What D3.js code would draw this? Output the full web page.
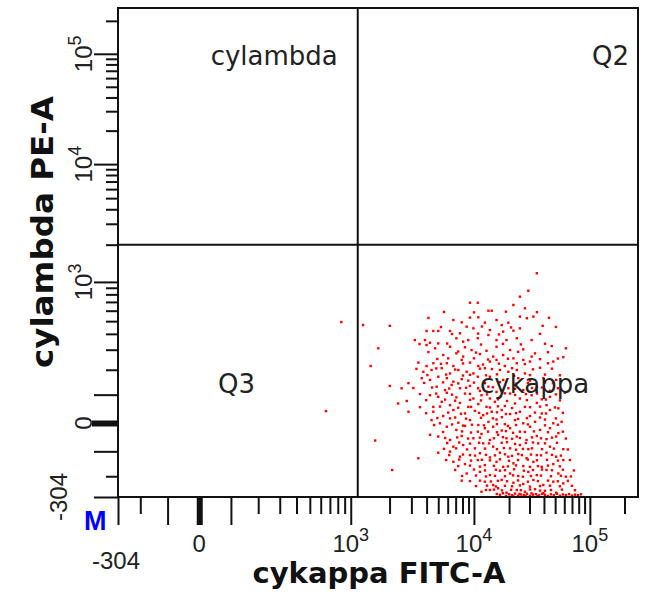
<!DOCTYPE html>
<html>
<head>
<meta charset="utf-8">
<script src="https://cdn.jsdelivr.net/npm/d3@7/dist/d3.min.js"></script>
<style>
  body { margin: 0; background: #fff; }
  svg { display: block; }
</style>
</head>
<body>
<div id="plot"></div>
<script>
// event values (FITC-A, PE-A)
const kappaFITC = [34700,29300,24800,9260,10800,21800,27400,13300,14200,32400,
  24800,10900,6700,7880,15600,19700,1240,2010,39000,12400,
  8680,17300,4000,4550,5000,6280,9900,13700,17800,21800,
  24800,7620,13300,3200,3880,4270,5000,7100,8100,8950,
  10800,15600,19000,23300,31300,46700,62000,1630,4000,4700,
  6280,8400,9560,12800,15600,20400,26500,33500,5500,6060,
  7100,8100,11260,14600,17800,21800,26500,31300,48200,58800,
  3420,4000,4550,5900,6700,7880,9260,10900,13700,15600,
  18400,23300,30300,37000,1420,3760,4400,5350,6280,7370,
  8680,9900,12400,16700,19700,23300,27400,3650,4270,5000,
  5900,6700,7880,8950,10800,13700,17800,24000,30300,39500,
  51000,2010,2500,2840,4850,5700,6480,7620,9260,11260,
  13300,15600,19700,26500,34700,45100,60800,4270,5000,5900,
  7100,8400,9900,11600,13700,16700,20400,24800,31300,38300,
  45100,2340,2750,4550,5350,6280,7620,8950,10900,12800,
  15100,18400,22500,27400,34700,42100,53300,2840,4550,5500,
  6700,8400,10200,12000,14200,17300,20400,24800,30300,38300,
  45100,4400,5170,6280,7370,9260,10900,13300,15600,18400,
  22500,26500,33500,40800,48200,56900,5900,7100,8400,10800,
  12400,14600,17300,20400,24800,30300,37000,45100,53300,1540,
  4270,5000,6280,7880,9900,11600,13700,16100,19000,23300,
  28300,34700,42100,51000,6700,8100,10200,12000,14600,17300,
  20400,24800,29300,35700,45100,58800,5000,6280,7620,9260,
  11260,13700,16700,19700,24000,28300,34700,42100,51000,3420,
  6700,8400,10800,12400,15600,17800,21800,26500,32400,38300,
  48200,58800,2100,8680,11260,13700,16700,20400,24000,29300,
  34700,42100,53300,62000,7880,12400,14600,17300,21800,26500,
  32400,39500,48200,58800,11600,13700,16100,19000,23300,27400,
  33500,40800,51000,
  850,655,
  15700,16700,17700,18800,20000,21200,22500,23900,25300,26800,
  28500,30300,32200,34200,36300,38500,40800,43300,46000,48800,
  51900,55000,58400,62000,66000,70000,74200,78800,83700,21800,
  24600,27700,31200,35200,39600,
  5590,10020,18800,34800,
  4140,9260,28480,44220,
  5270,11710,20810,50790,
  6530,10850,16370,37000,
  3500,5940,11490,17720,25300,40850,
  4140,7360,10430,23910,43350,
  4910,10020,13200,19570,37000,52840,
  5270,8080,11950,16370,27380,43350,
  3300,4810,6930,11260,14250,21220,32150,46920,
  4060,5820,8080,9260,12680,15740,22080,30300,40850,55000,
  3820,5490,7360,10020,12430,16700,22970,29060,40850,47860,
  3110,4440,6180,8580,10850,14540,22520,31520,38500,52840,
  3530,4810,6530,9260,12940,18440,22520,27930,34800,50790,
  3970,5710,6930,9260,11490,16050,19190,28480,41660,55000,
  3530,5170,7360,9450,13700,16050,21220,30300,37000,49790,
  3970,6060,7770,11070,12940,15740,18800,22970,33450,41660,58370,
  4910,6930,8580,11490,14540,17370,23910,28480,37000,50790,
  4620,6530,8080,9630,12180,15740,19570,22970,29060,40850,52840,
  5490,7930,9450,13200,15740,18800,21650,27380,32800,43350,58370,
  5710,7220,8930,11260,14830,17720,21220,24800,31520,37740,46920,61930,
  5940,7500,9260,11070,13460,19190,22520,27930,32150,40850,51800,
  5590,7070,8750,12430,15740,18070,22970,26310,31520,38500,48820,64430,
  6180,8080,10220,12680,15120,18440,21220,25800,30910,37740,46920,56100,
  5820,7500,9450,11710,13700,16700,19960,23910,29060,34800,42500,52840,67200,
  7360,9260,11260,14830,19570,22970,30300,35500,43350,55000,
  6930,10020,12430,15430,18440,22080,26840,32150,38500,46920,58370,72740,
  7930,10430,12680,15120,18440,21650,26310,30910,37740,46000,56100,68540,
  9260,11260,13970,16050,19190,23910,29060,35500,43350,52840,64430,
  10430,12940,15430,18440,21220,24800,30300,37000,45100,55000,69910,
  12680,14830,17370,20810,25300,30300,37000,46000,57220,74200];

const lambdaPE = [1170,853,768,690,690,663,626,600,600,541,
  541,535,510,490,510,487,467,461,461,487,
  454,467,421,421,421,421,441,428,416,423,
  441,404,392,358,358,341,337,370,348,358,
  370,358,358,370,358,321,308,308,327,308,
  317,314,298,294,317,298,302,280,271,254,
  280,263,276,263,271,254,246,263,238,260,
  233,217,230,230,217,246,233,217,238,246,
  217,230,238,209,217,191,199,207,184,199,
  191,184,207,199,191,199,184,164,157,170,
  164,150,160,154,170,170,157,164,154,164,
  157,133,124,144,130,117,137,124,133,114,
  130,110,124,117,130,114,107,98,92,107,
  90,104,86,98,86,92,104,86,98,83,
  92,68,77,56,74,62,70,56,66,56,
  74,59,68,56,70,62,51,39,39,24,
  45,33,42,27,39,45,31,39,24,33,
  45,10,-1,16,1,10,-7,4,12,-4,
  10,-1,4,12,-1,4,-13,-24,-10,-30,
  -18,-13,-26,-18,-30,-13,-24,-18,-35,-61,
  -41,-47,-59,-45,-53,-38,-59,-41,-53,-47,
  -59,-45,-56,-47,-83,-77,-89,-71,-83,-69,
  -89,-77,-92,-71,-83,-92,-105,-101,-120,-114,
  -107,-123,-105,-120,-110,-126,-114,-105,-120,-126,
  -140,-149,-133,-153,-140,-160,-146,-157,-140,-160,
  -149,-133,-173,-188,-181,-195,-176,-188,-199,-181,
  -195,-173,-188,-202,-220,-225,-241,-217,-230,-236,
  -217,-241,-225,-233,-275,-266,-257,-280,-266,-275,
  -262,-270,-280,
  492,41,
  -287,-292,-283,-298,-289,-294,-285,-297,-290,-293,
  -286,-298,-291,-288,-295,-286,-292,-298,-289,-294,
  -286,-297,-290,-293,-288,-296,-291,-294,-289,-300,
  -287,-299,-284,-300,-283,
  587,583,590,585,
  529,532,526,530,
  451,455,448,452,
  399,402,396,400,
  333,336,330,334,331,335,
  287,290,284,288,286,
  251,254,248,252,250,253,
  227,229,224,228,226,230,
  204,206,201,205,203,207,202,205,
  177,179,175,178,176,180,174,177,179,176,
  145,147,143,146,144,148,142,145,147,144,
  125,127,123,126,124,128,122,125,127,124,
  102,104,100,103,101,105,99,102,104,101,
  80,82,78,81,79,83,77,80,82,79,
  55,57,53,56,54,58,52,55,57,54,
  34,36,32,35,33,37,31,34,36,33,35,
  17,19,15,18,16,20,14,17,19,16,
  -7,-5,-9,-6,-8,-4,-10,-7,-5,-8,-6,
  -31,-29,-33,-30,-32,-28,-34,-31,-29,-32,-30,
  -52,-50,-54,-51,-53,-49,-55,-52,-50,-53,-51,-54,
  -70,-68,-72,-69,-71,-67,-73,-70,-68,-71,-69,
  -91,-89,-93,-90,-92,-88,-94,-91,-89,-92,-90,-93,
  -114,-112,-116,-113,-115,-111,-117,-114,-112,-115,-113,-116,
  -133,-131,-135,-132,-134,-130,-136,-133,-131,-134,-132,-135,-133,
  -157,-155,-159,-156,-158,-154,-160,-157,-155,-158,
  -173,-171,-175,-172,-174,-170,-176,-173,-171,-174,-172,-175,
  -199,-197,-201,-198,-200,-196,-202,-199,-197,-200,-198,-201,
  -222,-220,-224,-221,-223,-219,-225,-222,-220,-223,-221,
  -246,-244,-248,-245,-247,-243,-249,-246,-244,-247,-245,
  -266,-264,-268,-265,-267,-263,-269,-266,-264,-267];

// axis ticks
const majorTicks = [-304, -100, 0, 100, 1e3, 1e4, 1e5];
const minorTicks = [-200, 200, 300, 400, 500, 600, 700, 800, 900,
  2000, 3000, 4000, 5000, 6000, 7000, 8000, 9000,
  20000, 30000, 40000, 50000, 60000, 70000, 80000, 90000, 200000];
const tickLabels = [
  { value: -304, base: "-304", exp: "" },
  { value: 0, base: "0", exp: "" },
  { value: 1e3, base: "10", exp: "3" },
  { value: 1e4, base: "10", exp: "4" },
  { value: 1e5, base: "10", exp: "5" }
];

// gates
const quadrantX = 1130;
const quadrantY = 2000;
const quadrantNames = ["cylambda", "Q2", "Q3", "cykappa"];

const AXIS_TOP = 262144, DECADES = 4.5;

(function() {
    const COLORS = {
        ink: "#111111",
        text: "#222222",
        dot: "#ff0000",
        marker: "#0000ff"
    };

    // logicle transform: data value -> display position 0..1
    function logicle(W) {
        const w = W / DECADES, x1 = w, x0 = 2 * w, b = DECADES * Math.LN10;
        let lo = 1e-6, hi = b;
        for (let i = 0; i < 80; i++) {
            const mid = (lo + hi) / 2;
            const f = 2 * (Math.log(mid) - Math.log(b)) + w * (b + mid);
            if (f > 0) hi = mid; else lo = mid;
        }
        const d = (lo + hi) / 2;
        const ca = Math.exp(x0 * (b + d));
        const mfa = Math.exp(b * x1) - ca / Math.exp(d * x1);
        const a = AXIS_TOP / ((Math.exp(b) - mfa) - ca / Math.exp(d));
        const c = ca * a, f = -mfa * a;
        const S = p => p >= x1
            ? a * Math.exp(b * p) - c * Math.exp(-d * p) + f
            : -(a * Math.exp(b * (2 * x1 - p)) - c * Math.exp(-d * (2 * x1 - p)) + f);
        return v => {
            let l = -1, h = 1.5;
            for (let i = 0; i < 60; i++) {
                const m = (l + h) / 2;
                if (S(m) > v) h = m; else l = m;
            }
            return (l + h) / 2;
        };
    }

    const lx = logicle(0.68), ly = logicle(0.70);

    const W = 648, H = 595;
    const frame = { left: 118, right: 638, top: 8, bottom: 497 };

    const x = d3.scaleLinear().domain([lx(-304), 1]).range([frame.left, frame.right]);
    const y = d3.scaleLinear().domain([ly(-304), 1]).range([frame.bottom, frame.top]);
    const X = v => x(lx(v));
    const Y = v => y(ly(v));

    const svg = d3.select("#plot").append("svg")
        .attr("width", W)
        .attr("height", H)
        .attr("viewBox", `0 0 ${W} ${H}`);

    // dots
    const events = kappaFITC.map((k, i) => ({ k, l: lambdaPE[i] }));
    svg.append("g")
        .selectAll("rect")
        .data(events)
        .join("rect")
        .attr("x", d => X(d.k) - 1.2)
        .attr("y", d => Y(d.l) - 1.2)
        .attr("width", 2.4)
        .attr("height", 2.4)
        .attr("fill", COLORS.dot);

    // quadrant lines
    svg.append("line")
        .attr("x1", X(quadrantX)).attr("x2", X(quadrantX))
        .attr("y1", frame.top).attr("y2", frame.bottom)
        .attr("stroke", COLORS.ink).attr("stroke-width", 2);
    svg.append("line")
        .attr("x1", frame.left).attr("x2", frame.right)
        .attr("y1", Y(quadrantY)).attr("y2", Y(quadrantY))
        .attr("stroke", COLORS.ink).attr("stroke-width", 2);

    // frame
    svg.append("rect")
        .attr("x", frame.left).attr("y", frame.top)
        .attr("width", frame.right - frame.left)
        .attr("height", frame.bottom - frame.top)
        .attr("fill", "none")
        .attr("stroke", COLORS.ink)
        .attr("stroke-width", 2);

    // ticks
    function tickAxis(axis, scale, values, size, width, transform) {
        const g = svg.append("g")
            .attr("transform", transform)
            .call(axis(scale).tickValues(values).tickSize(size).tickFormat(""));
        g.select(".domain").remove();
        g.selectAll("line").attr("stroke", COLORS.ink).attr("stroke-width", width);
    }
    tickAxis(d3.axisBottom, x, minorTicks.map(lx), 17, 2, `translate(0,${frame.bottom})`);
    tickAxis(d3.axisBottom, x, majorTicks.map(lx), 28, 2, `translate(0,${frame.bottom})`);
    tickAxis(d3.axisBottom, x, [lx(0)], 28, 6, `translate(0,${frame.bottom})`);
    tickAxis(d3.axisLeft, y, minorTicks.map(ly), 12, 2, `translate(${frame.left},0)`);
    tickAxis(d3.axisLeft, y, majorTicks.map(ly), 24, 2, `translate(${frame.left},0)`);
    tickAxis(d3.axisLeft, y, [ly(0)], 26, 6, `translate(${frame.left},0)`);

    // tick labels
    function label(sel, t) {
        sel.attr("font-family", "Liberation Sans, Arial, sans-serif")
            .attr("font-size", 24)
            .attr("fill", COLORS.text)
            .attr("text-anchor", "middle");
        sel.append("tspan").text(t.base);
        if (t.exp) sel.append("tspan").attr("dy", -11).attr("font-size", 18).text(t.exp);
    }
    tickLabels.forEach(t => {
        const low = t.value === -304;
        svg.append("text")
            .attr("x", X(t.value) + (low ? -2 : 0))
            .attr("y", low ? 569 : 552)
            .call(label, t);
        svg.append("text")
            .attr("transform", `translate(${low ? 67 : 92},${Y(t.value)}) rotate(-90)`)
            .call(label, t);
    });

    // axis titles
    svg.append("text")
        .attr("x", 379).attr("y", 583)
        .attr("text-anchor", "middle")
        .attr("font-family", "DejaVu Sans, sans-serif")
        .attr("font-weight", "bold")
        .attr("font-size", 29)
        .attr("fill", COLORS.ink)
        .text("cykappa FITC-A");
    svg.append("text")
        .attr("transform", "translate(53,232) rotate(-90)")
        .attr("text-anchor", "middle")
        .attr("font-family", "DejaVu Sans, sans-serif")
        .attr("font-weight", "bold")
        .attr("font-size", 30)
        .attr("textLength", 272)
        .attr("lengthAdjust", "spacingAndGlyphs")
        .attr("fill", COLORS.ink)
        .text("cylambda PE-A");

    // quadrant names
    const qx = X(quadrantX);
    const qPos = [
        { x: qx - 20, y: 65, anchor: "end" },
        { x: frame.right - 9, y: 65, anchor: "end" },
        { x: 218, y: 393, anchor: "start" },
        { x: 480, y: 393, anchor: "start" }
    ];
    svg.append("g").selectAll("text")
        .data(quadrantNames)
        .join("text")
        .attr("x", (d, i) => qPos[i].x)
        .attr("y", (d, i) => qPos[i].y)
        .attr("text-anchor", (d, i) => qPos[i].anchor)
        .attr("font-family", "DejaVu Sans, sans-serif")
        .attr("font-size", 26)
        .attr("fill", COLORS.text)
        .text(d => d);

    // marker glyph in the corner
    svg.append("text")
        .attr("x", 84).attr("y", 530)
        .attr("font-family", "Liberation Sans, Arial, sans-serif")
        .attr("font-weight", "bold")
        .attr("font-size", 27)
        .attr("fill", COLORS.marker)
        .text("M");
})();
</script>
</body>
</html>
